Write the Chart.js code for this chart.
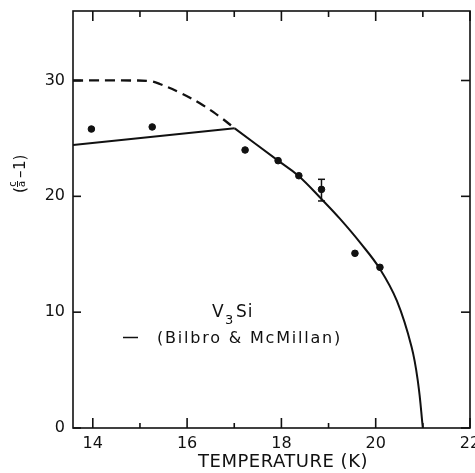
<!DOCTYPE html>
<html>
<head>
<meta charset="utf-8">
<script src="https://cdn.jsdelivr.net/npm/chart.js@4/dist/chart.umd.min.js"></script>
<style>
  html, body { margin: 0; padding: 0; background: #fff; }
</style>
</head>
<body>
<canvas id="chart" width="475" height="473"></canvas>
<script>
// 測定値
const measTemp = [13.97, 15.26, 17.23, 17.93, 18.37, 18.85, 19.56, 20.09];
const measValue = [25.81, 25.99, 24.0, 23.08, 21.78, 20.6, 15.08, 13.87];
const errTemp = [18.85];
const errLow = [19.6];
const errHigh = [21.47];

// 理論曲線 (Bilbro & McMillan)
const lowTemp = [13.58, 17.01];
const lowValue = [24.43, 25.87];
const curveTemp = [17.01, 17.93, 18.36, 18.87, 19.24, 19.67, 20.09, 20.45, 20.76, 20.9, 21.0];
const curveValue = [25.87, 23.08, 21.78, 19.68, 18.07, 16.0, 13.73, 10.97, 7.02, 3.86, 0];
const dashTemp = [13.58, 14.8, 15.2, 15.42, 15.85, 16.27, 16.69, 17.01];
const dashValue = [30.0, 30.0, 29.95, 29.7, 28.95, 28.03, 26.88, 25.87];

// 目盛り
const xTickLabels = [14, 16, 18, 20, 22];
const xMinorTicks = [15, 17, 19, 21];
const yTickLabels = [0, 10, 20, 30];

const ink = "#111";
const font = "DejaVu Sans";

function toPoints(xs, ys) {
  return xs.map((x, i) => ({ x: x, y: ys[i] }));
}

// 枠・内向き目盛り・エラーバー・凡例・軸タイトル
const decorations = {
  id: "decorations",
  afterDraw(chart) {
    const { ctx, chartArea: a, scales: { x, y } } = chart;
    ctx.save();
    ctx.strokeStyle = ink;
    ctx.fillStyle = ink;
    ctx.lineWidth = 1.6;
    ctx.strokeRect(a.left, a.top, a.right - a.left, a.bottom - a.top);

    const seg = (x1, y1, x2, y2) => {
      ctx.beginPath();
      ctx.moveTo(x1, y1);
      ctx.lineTo(x2, y2);
      ctx.stroke();
    };
    xTickLabels.forEach((v) => {
      const px = x.getPixelForValue(v);
      seg(px, a.bottom, px, a.bottom - 10);
      seg(px, a.top, px, a.top + 10);
    });
    xMinorTicks.forEach((v) => {
      const px = x.getPixelForValue(v);
      seg(px, a.bottom, px, a.bottom - 5);
      seg(px, a.top, px, a.top + 6);
    });
    yTickLabels.forEach((v) => {
      const py = y.getPixelForValue(v);
      seg(a.left, py, a.left + 8, py);
      seg(a.right, py, a.right - 9, py);
    });

    // エラーバー
    ctx.lineWidth = 1.5;
    errTemp.forEach((t, i) => {
      const px = x.getPixelForValue(t);
      const lo = y.getPixelForValue(errLow[i]);
      const hi = y.getPixelForValue(errHigh[i]);
      seg(px, lo, px, hi);
      seg(px - 3.5, lo, px + 3.5, lo);
      seg(px - 3.5, hi, px + 3.5, hi);
    });

    // 凡例
    ctx.textBaseline = "alphabetic";
    ctx.textAlign = "left";
    ctx.letterSpacing = "1px";
    ctx.font = "17px '" + font + "'";
    ctx.fillText("V", 212, 317);
    ctx.font = "13px '" + font + "'";
    ctx.fillText("3", 225, 324);
    ctx.font = "17px '" + font + "'";
    ctx.fillText("Si", 236, 317);

    ctx.letterSpacing = "1.8px";
    ctx.font = "16px '" + font + "'";
    ctx.fillText("(Bilbro & McMillan)", 157, 343);
    seg(123, 337.5, 138, 337.5);

    // x 軸タイトル
    ctx.textAlign = "center";
    ctx.letterSpacing = "0.5px";
    ctx.font = "18px '" + font + "'";
    ctx.fillText("TEMPERATURE (K)", 283, 467);

    // y 軸タイトル (c/a - 1)
    ctx.letterSpacing = "0px";
    ctx.translate(20, 174);
    ctx.rotate(-Math.PI / 2);
    ctx.textAlign = "left";
    ctx.font = "15px '" + font + "'";
    ctx.fillText("(", -19, 5);
    ctx.font = "10px '" + font + "'";
    ctx.textAlign = "center";
    ctx.fillText("c", -10, -4);
    ctx.fillText("a", -10, 5);
    ctx.lineWidth = 1;
    seg(-13, -2.5, -7, -2.5);
    ctx.textAlign = "left";
    ctx.font = "15px '" + font + "'";
    ctx.fillText("\u2013", -4, 5);
    ctx.fillText("1)", 4, 5);
    ctx.restore();
  },
};

const ctx = document.getElementById("chart").getContext("2d");
new Chart(ctx, {
  type: "line",
  data: {
    datasets: [
      {
        type: "scatter",
        data: toPoints(measTemp, measValue),
        backgroundColor: ink,
        borderColor: ink,
        pointRadius: 3.3,
        showLine: false,
      },
      {
        data: toPoints(lowTemp, lowValue),
        borderColor: ink,
        borderWidth: 2,
        pointRadius: 0,
        fill: false,
      },
      {
        data: toPoints(curveTemp, curveValue),
        borderColor: ink,
        borderWidth: 2,
        pointRadius: 0,
        tension: 0.4,
        fill: false,
      },
      {
        data: toPoints(dashTemp, dashValue),
        borderColor: ink,
        borderWidth: 2.3,
        borderDash: [10, 6],
        pointRadius: 0,
        tension: 0.4,
        fill: false,
      },
    ],
  },
  options: {
    responsive: false,
    animation: false,
    layout: { padding: { top: 11, right: 5, left: 0, bottom: 0 } },
    plugins: { legend: { display: false }, tooltip: { enabled: false } },
    scales: {
      x: {
        type: "linear",
        min: 13.58,
        max: 22,
        grid: { display: false, drawTicks: false },
        border: { display: false },
        ticks: {
          color: ink,
          padding: 6,
          maxRotation: 0,
          font: { family: font, size: 16 },
        },
        afterBuildTicks: (s) => {
          s.ticks = xTickLabels.map((v) => ({ value: v }));
        },
        afterFit: (s) => {
          s.height = 45;
          s.paddingLeft = 0;
          s.paddingRight = 0;
        },
      },
      y: {
        min: 0,
        max: 36,
        grid: { display: false, drawTicks: false },
        border: { display: false },
        ticks: {
          color: ink,
          padding: 8,
          font: { family: font, size: 16 },
        },
        afterBuildTicks: (s) => {
          s.ticks = yTickLabels.map((v) => ({ value: v }));
        },
        afterFit: (s) => {
          s.width = 73;
          s.paddingTop = 0;
          s.paddingBottom = 0;
        },
      },
    },
  },
  plugins: [decorations],
});
</script>
</body>
</html>
